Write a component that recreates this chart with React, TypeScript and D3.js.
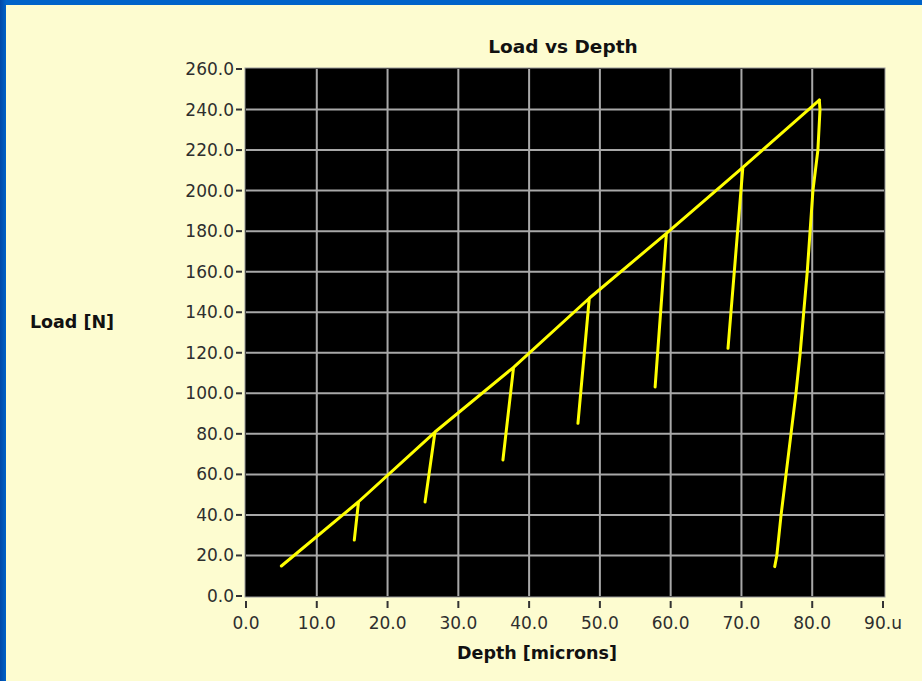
import React from 'react';
import * as d3 from 'd3';

// loading curve: start point and the peak reached before each unload
const peakDepth = [5.0, 15.9, 26.7, 37.8, 48.5, 59.4, 70.2, 81.0];
const peakLoad = [14.8, 46.5, 80.9, 112.8, 146.9, 178.9, 211.5, 244.7];

// partial unloads (from peak i+1 down to these points)
const unloadDepth = [15.3, 25.3, 36.3, 46.9, 57.8, 68.1];
const unloadLoad = [27.6, 46.4, 67.1, 85.2, 103.1, 122.2];

// final full unload
const finalDepth = [81.0, 81.1, 80.8, 80.1, 79.7, 79.3, 78.8, 78.3, 77.7, 77.0, 76.3, 75.6, 75.0, 74.7];
const finalLoad = [244.7, 240.0, 220.0, 200.0, 180.0, 160.0, 140.0, 120.0, 100.0, 80.0, 60.0, 40.0, 20.0, 14.5];

const xTicks = [0, 10, 20, 30, 40, 50, 60, 70, 80, 90];
const xTickLabels = ['0.0', '10.0', '20.0', '30.0', '40.0', '50.0', '60.0', '70.0', '80.0', '90.u'];
const yTicks = [0, 20, 40, 60, 80, 100, 120, 140, 160, 180, 200, 220, 240, 260];

const W = 922;
const H = 681;

const App = () => {
  const x = d3.scaleLinear().domain([0, 90]).range([246, 883]);
  const y = d3.scaleLinear().domain([0, 260]).range([596, 69]);

  const line = d3.line<[number, number]>()
    .x(d => x(d[0]))
    .y(d => y(d[1]));

  // build the loading trace with the unload/reload excursions
  const trace: [number, number][] = [[peakDepth[0], peakLoad[0]]];
  for (let i = 1; i < peakDepth.length; i++) {
    trace.push([peakDepth[i], peakLoad[i]]);
    if (i - 1 < unloadDepth.length) {
      trace.push([unloadDepth[i - 1], unloadLoad[i - 1]]);
      trace.push([peakDepth[i], peakLoad[i]]);
    }
  }
  const finalTrace: [number, number][] = finalDepth.map((d, i) => [d, finalLoad[i]]);

  const font = '"DejaVu Sans", Verdana, sans-serif';

  return (
    <svg width={W} height={H} style={{ position: 'absolute', left: 0, top: 0 }}>
      <defs>
        <linearGradient id="leftBar" x1="0" y1="0" x2="1" y2="0">
          <stop offset="0" stopColor="#0048a8" />
          <stop offset="1" stopColor="#0062c8" />
        </linearGradient>
      </defs>
      <rect x={0} y={0} width={W} height={H} fill="#fdfcd0" />
      <rect x={0} y={0} width={W} height={5} fill="#0063c9" />
      <rect x={0} y={0} width={6} height={H} fill="url(#leftBar)" />

      <text x={563} y={53} textAnchor="middle" fontFamily={font} fontWeight="bold" fontSize={18.5} fill="#111">
        Load vs Depth
      </text>

      <rect x={245} y={68} width={640} height={529} fill="#000" stroke="#9a9a9a" strokeWidth={1} />

      <g stroke="#a8a8a8" strokeWidth={2}>
        {xTicks.slice(1, -1).map(t => (
          <line key={'gx' + t} x1={x(t)} x2={x(t)} y1={69} y2={596} />
        ))}
        {yTicks.slice(1, -1).map(t => (
          <line key={'gy' + t} x1={246} x2={884} y1={y(t)} y2={y(t)} />
        ))}
      </g>

      <g fill="none" stroke="#ffff00" strokeWidth={3} strokeLinejoin="round" strokeLinecap="round">
        <path d={line(trace) || ''} />
        <path d={line(finalTrace) || ''} />
      </g>

      <g stroke="#333" strokeWidth={2}>
        {xTicks.map(t => (
          <line key={'tx' + t} x1={x(t)} x2={x(t)} y1={601} y2={608} />
        ))}
        {yTicks.map(t => (
          <line key={'ty' + t} x1={236} x2={242} y1={y(t)} y2={y(t)} />
        ))}
      </g>

      <g fontFamily={font} fontSize={17} fill="#2e2e2e">
        {xTicks.map((t, i) => (
          <text key={'lx' + t} x={x(t)} y={629} textAnchor="middle">{xTickLabels[i]}</text>
        ))}
        {yTicks.map(t => (
          <text key={'ly' + t} x={234} y={y(t) + 6} textAnchor="end">{t.toFixed(1)}</text>
        ))}
      </g>

      <text x={537} y={659} textAnchor="middle" fontFamily={font} fontWeight="bold" fontSize={17.5} fill="#111">
        Depth [microns]
      </text>
      <text x={72} y={328} textAnchor="middle" fontFamily={font} fontWeight="bold" fontSize={17.5} fill="#111">
        Load [N]
      </text>
    </svg>
  );
};

export default App;
